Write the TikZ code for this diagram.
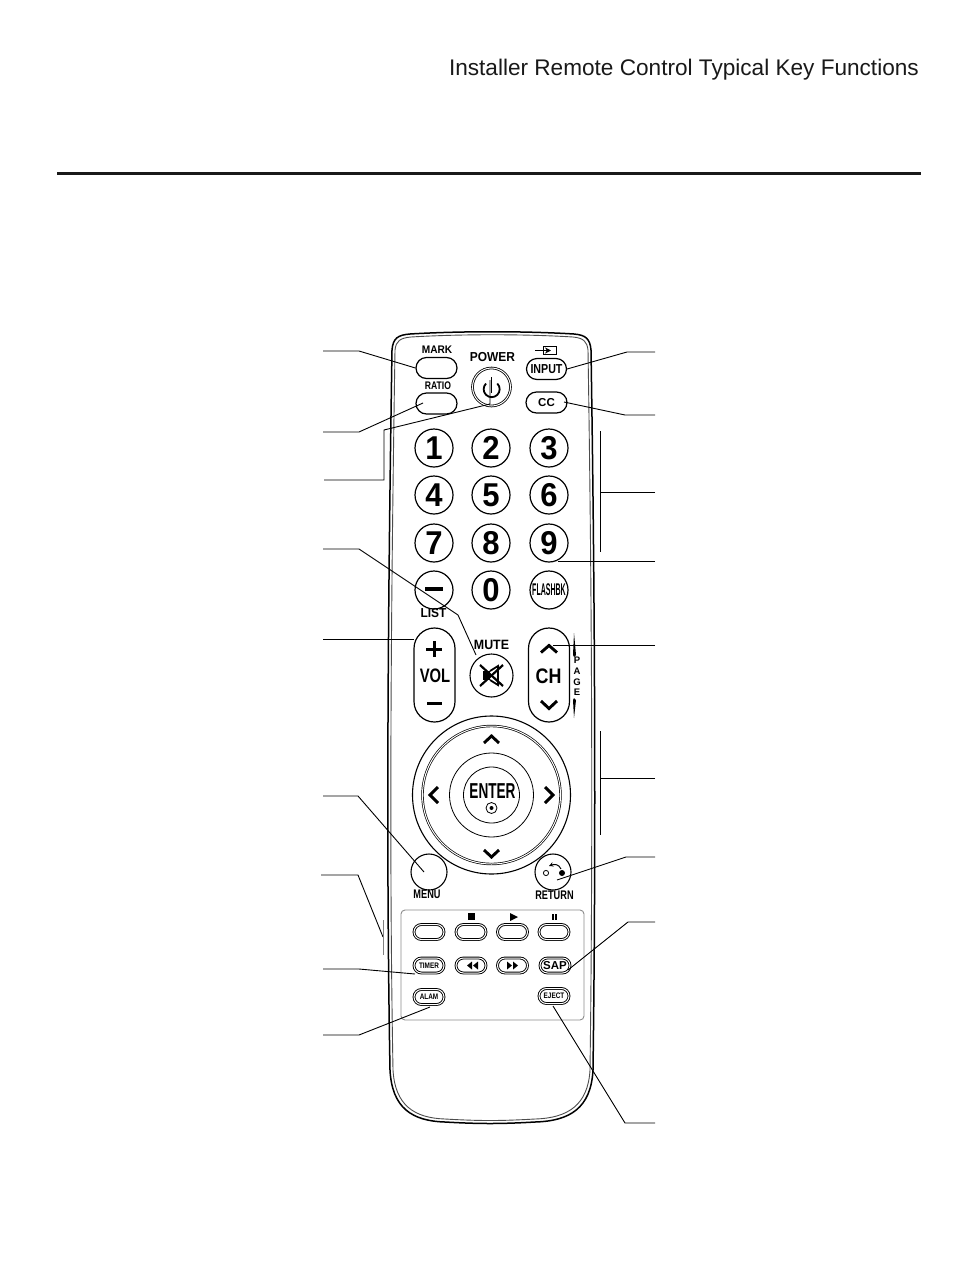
\documentclass[tikz,border=0pt]{standalone}
\usepackage{fontspec}
\setmainfont{Liberation Sans}
\usetikzlibrary{shapes.misc,arrows.meta}
\begin{document}
\begin{tikzpicture}
[x=1pt,y=-1pt,>=stealth,
leader/.style = {draw, line width=0.9pt},
bodyline/.style = {draw, line width=1.5pt, line join=round},
numkey/.style = {draw, circle, line width=1.2pt, minimum size=38pt, inner sep=0pt, font=\bfseries\fontsize{33}{33}\selectfont},
roundkey/.style = {draw, circle, line width=1.1pt, inner sep=0pt},
softkey/.style = {draw, rounded rectangle, line width=1.2pt, minimum width=41pt, minimum height=21pt, inner sep=0pt, font=\bfseries\fontsize{12}{12}\selectfont},
smallkey/.style = {draw, rounded rectangle, line width=0.9pt, double=white, double distance=1pt, minimum width=30pt, minimum height=15pt, inner sep=0pt, font=\bfseries\fontsize{8}{8}\selectfont},
volkey/.style = {draw, rounded rectangle, rounded rectangle arc length=180, line width=1.2pt, minimum width=94pt, minimum height=41pt, inner sep=0pt, rotate=90},
caption/.style = {inner sep=0pt, font=\bfseries\fontsize{12}{12}\selectfont, xscale=0.92},
chevron/.style = {draw, line width=2.9pt, line join=miter},
]
\useasboundingbox (0,0) rectangle (954,1272);
\fill[white] (0,0) rectangle (954,1272);

\node (title) at (919,70)[anchor=east,inner sep=0pt,font=\fontsize{22.6}{24}\selectfont,text=black!90] {Installer Remote Control Typical Key Functions};
\coordinate (rulel) at (57,173);
\coordinate (ruler) at (921,173);
\draw[line width=3pt,black!90] (rulel)--(ruler);

% remote outline
\draw[bodyline] (392,350) .. controls (393,338) and (398,335) .. (410,334) .. controls (460,331) and (525,331) .. (574,334) .. controls (586,335) and (590,339) .. (591,350) .. controls (595,600) and (596,850) .. (593,1070) .. controls (591,1108) and (570,1121) .. (535,1122) .. controls (500,1124) and (480,1124) .. (445,1122) .. controls (412,1121) and (392,1108) .. (390,1070) .. controls (386,850) and (388,600) .. (392,350);
\draw[line width=0.9pt,black!70] (395,350) .. controls (396,341) and (400,338) .. (411,337) .. controls (460,334) and (525,334) .. (573,337) .. controls (584,338) and (587,342) .. (588,350) .. controls (592,600) and (593,850) .. (590,1070) .. controls (588,1105) and (568,1118) .. (535,1119) .. controls (500,1121) and (480,1121) .. (445,1119) .. controls (414,1118) and (395,1105) .. (393,1070) .. controls (389,850) and (391,600) .. (395,350);

% number keys
\node (k1) at (434,448)[numkey] {\scalebox{0.94}[1]{1}};
\node (k2) at (491,448)[numkey] {\scalebox{0.94}[1]{2}};
\node (k3) at (549,448)[numkey] {\scalebox{0.94}[1]{3}};
\node (k4) at (434,495)[numkey] {\scalebox{0.94}[1]{4}};
\node (k5) at (491,495)[numkey] {\scalebox{0.94}[1]{5}};
\node (k6) at (549,495)[numkey] {\scalebox{0.94}[1]{6}};
\node (k7) at (434,543)[numkey] {\scalebox{0.94}[1]{7}};
\node (k8) at (491,543)[numkey] {\scalebox{0.94}[1]{8}};
\node (k9) at (549,543)[numkey] {\scalebox{0.94}[1]{9}};
\node (dash) at (434,590)[numkey] {};
\node (k0) at (491,590)[numkey] {\scalebox{0.94}[1]{0}};
\node (flash) at (549,590)[numkey,font=\bfseries\fontsize{13}{13}\selectfont] {\scalebox{0.54}[1.3]{FLASHBK}};
\draw[line width=3.4pt] (425,589)--(443,589);

% top keys
\node (mark) at (436.5,368)[softkey] {};
\node (ratio) at (436.5,403.5)[softkey] {};
\node (input) at (546.5,369)[softkey,minimum width=40pt,font=\bfseries\fontsize{13}{13}\selectfont] {\scalebox{0.82}[1]{INPUT}};
\node (cc) at (546.5,402.5)[softkey,font=\bfseries\fontsize{11.5}{11.5}\selectfont] {CC};
\node (power) at (491.5,387)[roundkey,double=white,double distance=1pt,line width=0.8pt,minimum size=38pt] {};
\draw[line width=1.8pt] (486,383.5) arc (135:405:8pt);
\draw[line width=1.6pt] (491.5,377)--(491.5,393);
\node (marktxt) at (437,350)[caption,font=\bfseries\fontsize{11}{11}\selectfont] {MARK};
\node (ratiotxt) at (438,385.5)[caption,font=\bfseries\fontsize{11}{11}\selectfont,xscale=0.85] {RATIO};
\node (powertxt) at (492.5,357)[caption,font=\bfseries\fontsize{13}{13}\selectfont] {POWER};
\draw[line width=1pt] (543.5,346.5) rectangle (556,354);
\draw[line width=1.1pt,-{Stealth[length=6pt,width=6pt]}] (535,350.5)--(551,350.5);

% vol, mute, ch
\node (listtxt) at (433.5,613)[caption,font=\bfseries\fontsize{13}{13}\selectfont] {LIST};
\node (mutetxt) at (491.5,645)[caption,font=\bfseries\fontsize{13.5}{13.5}\selectfont] {MUTE};
\node (vol) at (434.5,675)[volkey] {};
\node (ch) at (549,675)[volkey] {};
\draw[line width=3pt] (426,649)--(442,649);
\draw[line width=3pt] (434,641)--(434,657);
\draw[line width=2.8pt] (427,703.5)--(442,703.5);
\node (voltxt) at (435,676)[inner sep=0pt,font=\bfseries\fontsize{19.5}{19.5}\selectfont,xscale=0.76] {VOL};
\node (chtxt) at (548.5,676)[inner sep=0pt,font=\bfseries\fontsize{21}{21}\selectfont,xscale=0.85] {CH};
\draw[chevron] (541,652.5)--(549,645.5)--(557,652.5);
\draw[chevron] (541,701)--(549,708.5)--(557,701);
\node (mute) at (491.5,675.5)[roundkey,minimum size=43pt] {};
\draw[line width=2.2pt] (480,686)--(503,665);
\draw[line width=2.2pt] (480,665)--(503,686);
\fill (483,671) rectangle (490,680);
\draw[line width=1.8pt] (490,671)--(498,666)--(498,685)--(490,680);
\fill (574,633)--(576,655)--(574,657)--(573,655)--cycle;
\fill (574,718)--(576,700)--(574,698)--(573,700)--cycle;
\foreach \ltr/\ypos in {P/660,A/671,G/682,E/692}
  \node (page\ltr) at (577,\ypos)[inner sep=0pt,font=\bfseries\fontsize{9.5}{9.5}\selectfont] {\ltr};

% ring
\node (ring) at (491.5,795)[roundkey,minimum size=158pt] {};
\node (ringb) at (491.5,795)[roundkey,line width=0.7pt,double=white,double distance=1pt,minimum size=138pt] {};
\node (ringc) at (491.5,795)[roundkey,line width=0.8pt,minimum size=84pt] {};
\node (enter) at (491.5,795)[roundkey,line width=0.8pt,minimum size=56pt] {};
\node (entertxt) at (492.5,791)[inner sep=0pt,font=\bfseries\fontsize{20}{20}\selectfont,xscale=0.68,yscale=1.08] {ENTER};
\node (dot) at (491.5,808)[roundkey,line width=0.8pt,minimum size=11pt] {};
\fill (491.5,808) circle (2pt);
\draw[chevron] (484,743)--(491.5,736)--(499,743);
\draw[chevron] (484,850)--(491.5,857)--(499,850);
\draw[chevron] (438,787)--(430,795)--(438,803);
\draw[chevron] (545,787)--(553,795)--(545,803);

% menu, return
\node (menu) at (429,872)[roundkey,minimum size=36pt] {};
\node (ret) at (553,872)[roundkey,minimum size=36pt] {};
\node (menutxt) at (427,894.5)[caption,font=\bfseries\fontsize{12.5}{12.5}\selectfont,xscale=0.8] {MENU};
\node (rettxt) at (554.5,895)[caption,font=\bfseries\fontsize{12.5}{12.5}\selectfont,xscale=0.8] {RETURN};
\draw[line width=0.8pt] (546,873) circle (2.6pt);
\fill (562,873) circle (3pt);
\draw[line width=1pt,->] (561,869) .. controls (559,864) and (554,864) .. (549,866);

% lower panel
\draw[line width=0.9pt,black!45,rounded corners=4pt] (401,910) rectangle (584,1020);
\node (blank) at (429,932)[smallkey] {};
\node (stop) at (471,932)[smallkey] {};
\node (play) at (512.5,932)[smallkey] {};
\node (pause) at (554,932)[smallkey] {};
\node (timer) at (429,965.5)[smallkey] {\scalebox{0.8}[1]{TIMER}};
\node (rew) at (471,965.5)[smallkey] {};
\node (ff) at (512.5,965.5)[smallkey] {};
\node (sap) at (555,965.5)[smallkey,font=\bfseries\fontsize{11.5}{11.5}\selectfont] {SAP};
\node (alam) at (429,997)[smallkey] {\scalebox{0.8}[1]{ALAM}};
\node (eject) at (554,996)[smallkey] {\scalebox{0.8}[1]{EJECT}};
\fill (468,913) rectangle (475,920);
\fill (510,913)--(518,917)--(510,921)--cycle;
\fill (551.5,914) rectangle (553.5,920);
\fill (555,914) rectangle (557,920);
\fill (472,961.5)--(472,969.5)--(467,965.5)--cycle;
\fill (478,961.5)--(478,969.5)--(473,965.5)--cycle;
\fill (507,961.5)--(507,969.5)--(512,965.5)--cycle;
\fill (513,961.5)--(513,969.5)--(518,965.5)--cycle;

% left leaders
\coordinate (lmark) at (323,351);
\coordinate (lratio) at (323,432);
\coordinate (lpower) at (324,480);
\coordinate (lmute) at (323,549);
\coordinate (lvol) at (323,639);
\coordinate (lmenu) at (323,796);
\coordinate (lbar) at (321,875);
\coordinate (ltimer) at (323,969);
\coordinate (lalam) at (323,1035);
\draw[leader] (lmark)--(359,351)--(mark.west);
\draw[leader] (lratio)--(359,432)--(423,403);
\draw[leader] (lpower)--(384,480)--(384,430)--(490,404)--(490,380);
\draw[leader] (lmute)--(359,549)--(458,615)--(476,655);
\draw[leader] (lvol)--(414,639);
\draw[leader] (lmenu)--(358,796)--(424,872);
\draw[leader] (lbar)--(358,875)--(383,937);
\draw[line width=1.1pt,black!50] (383.5,920)--(383.5,955);
\draw[leader] (ltimer)--(359,969)--(415,974);
\draw[leader] (lalam)--(359,1035)--(430,1007);

% right leaders
\coordinate (rinput) at (655,352);
\coordinate (rcc) at (655,415);
\coordinate (rnum) at (655,492);
\coordinate (rnine) at (655,561);
\coordinate (rch) at (655,645);
\coordinate (rring) at (655,778);
\coordinate (rret) at (655,857);
\coordinate (rsap) at (655,922);
\coordinate (reject) at (655,1123);
\draw[leader] (rinput)--(627,352)--(input.east);
\draw[leader] (rcc)--(625,415)--(564,402);
\draw[leader] (rnum)--(601,492);
\draw[line width=0.9pt] (600.5,431)--(600.5,552);
\draw[leader] (rnine)--(558,561);
\draw[leader] (rch)--(553,645);
\draw[leader] (rring)--(601,778);
\draw[line width=0.9pt] (600.5,731)--(600.5,835);
\draw[leader] (rret)--(626,857)--(557,880);
\draw[leader] (rsap)--(628,922)--(568,970);
\draw[leader] (reject)--(625,1123)--(553,1006);
\end{tikzpicture}
\end{document}
